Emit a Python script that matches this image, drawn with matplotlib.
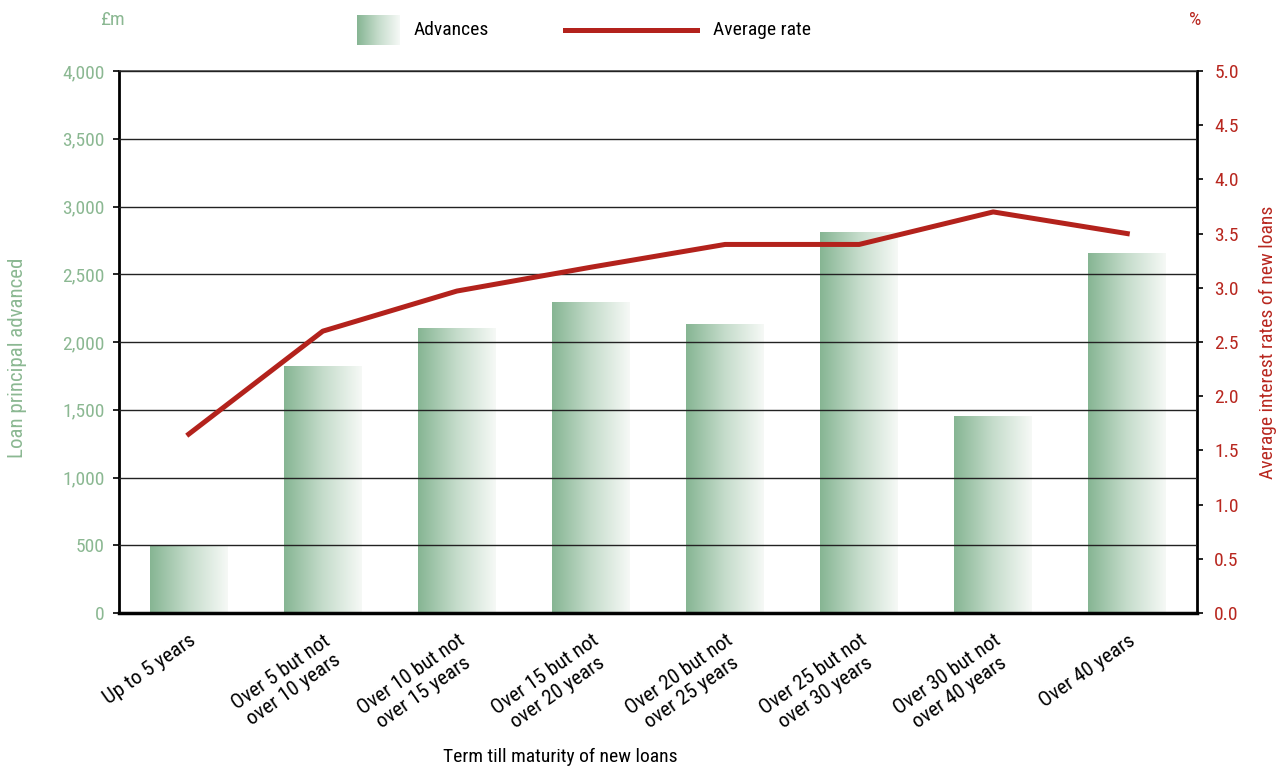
import numpy as np
import matplotlib
matplotlib.use('Agg')
import matplotlib.pyplot as plt
from matplotlib import font_manager
from matplotlib.colors import LinearSegmentedColormap
from matplotlib.lines import Line2D

names = {f.name for f in font_manager.fontManager.ttflist}
narrow = [n for n in ['Liberation Sans Narrow', 'Roboto Condensed', 'Open Sans Condensed',
                      'DejaVu Sans Condensed'] if n in names]
font = narrow[0] if narrow else 'Liberation Sans'
plt.rcParams['font.family'] = [font, 'DejaVu Sans']
fs = 14 if font in ('Liberation Sans Narrow', 'Roboto Condensed') else 13

categories = ['Up to 5 years', 'Over 5 but not\nover 10 years', 'Over 10 but not\nover 15 years',
              'Over 15 but not\nover 20 years', 'Over 20 but not\nover 25 years',
              'Over 25 but not\nover 30 years', 'Over 30 but not\nover 40 years', 'Over 40 years']
advances = [495, 1820, 2100, 2290, 2130, 2810, 1450, 2650]
avg_rate = [1.65, 2.6, 2.97, 3.19, 3.4, 3.4, 3.7, 3.5]

green = '#8bb892'
red = '#b8271f'
line_red = '#b3221c'
grad = LinearSegmentedColormap.from_list('g', ['#86b593', '#c5dccb', '#f6f9f6'])
gdata = np.linspace(0, 1, 256).reshape(1, -1)

fig = plt.figure(figsize=(12.8, 7.69), dpi=100)
ax = fig.add_axes([119/1280, 1 - 613/769, (1197-119)/1280, (613-71)/769])
x = np.arange(len(categories))

bars = ax.bar(x, advances, width=0.58, color='none', edgecolor='none', zorder=1)
for b in bars:
    ax.imshow(gdata, cmap=grad, aspect='auto', zorder=1,
              extent=[b.get_x(), b.get_x() + b.get_width(), 0, b.get_height()])
ax.set_xlim(-0.52, 7.52)
ax.set_ylim(0, 4000)
ax.set_yticks(np.arange(0, 4001, 500))
ax.set_yticklabels([f'{v:,}' for v in range(0, 4001, 500)])
ax.yaxis.grid(True, color='#222222', linewidth=1.0, zorder=2)
ax.set_axisbelow(False)
ax.tick_params(axis='y', colors='black', labelcolor=green, labelsize=fs, length=4.5, width=1.2, pad=6)
ax.set_xticks(x)
ax.set_xticklabels(categories, rotation=35, ha='right', va='top', rotation_mode='anchor',
                   multialignment='center', fontsize=fs + 1)
ax.tick_params(axis='x', length=0, pad=13)
ax.spines['left'].set_linewidth(2)
ax.spines['bottom'].set_linewidth(2.5)
ax.spines['right'].set_linewidth(2)
ax.spines['top'].set_linewidth(1.2)
ax.spines['top'].set_color('#444444')

ax2 = ax.twinx()
ax2.plot(x, avg_rate, color=line_red, linewidth=3.6, zorder=5)
ax2.set_ylim(0, 5)
ax2.set_yticks(np.arange(0, 5.01, 0.5))
ax2.set_yticklabels([f'{v:.1f}' for v in np.arange(0, 5.01, 0.5)])
ax2.tick_params(axis='y', colors='black', labelcolor=red, labelsize=fs, length=4.5, width=1.2, pad=8)
for s in ax2.spines.values():
    s.set_visible(False)

fig.text(18/1280, 1 - 358/769, 'Loan principal advanced', rotation=90, color=green,
         fontsize=fs + 1, ha='center', va='center')
fig.text(1268/1280, 1 - 342/769, 'Average interest rates of new loans', rotation=90, color=red,
         fontsize=fs, ha='center', va='center')
fig.text(112/1280, 1 - 20/769, '£m', color=green, fontsize=fs, ha='center', va='center')
fig.text(1195/1280, 1 - 20/769, '%', color=red, fontsize=fs, ha='center', va='center')
fig.text(560/1280, 1 - 757/769, 'Term till maturity of new loans', fontsize=fs, ha='center', va='center')

# legend
lax = fig.add_axes([357/1280, 1 - 45/769, 42/1280, 30/769])
lax.imshow(gdata, cmap=grad, aspect='auto')
lax.axis('off')
fig.text(414/1280, 1 - 30/769, 'Advances', fontsize=fs, va='center')
fig.add_artist(Line2D([565/1280, 697/1280], [1 - 30/769] * 2, color=line_red, linewidth=3.6))
fig.text(713/1280, 1 - 30/769, 'Average rate', fontsize=fs, va='center')

fig.savefig('out.png', dpi=100)
